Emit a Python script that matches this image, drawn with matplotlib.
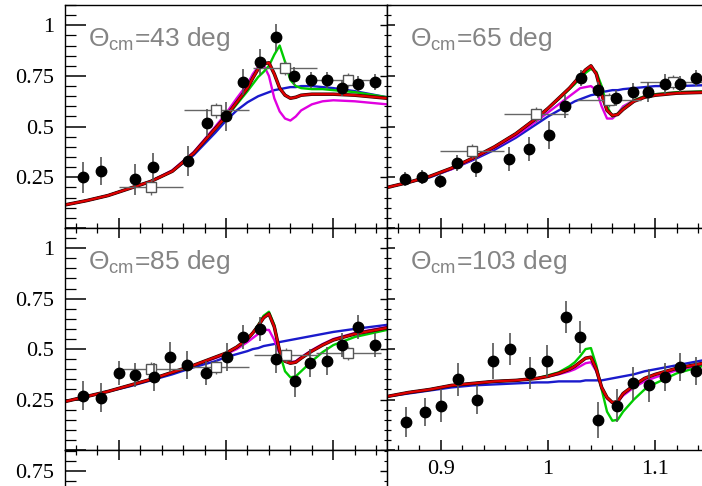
import matplotlib
matplotlib.use('Agg')
import matplotlib.pyplot as plt
import matplotlib.patheffects as pe
from matplotlib.ticker import MultipleLocator, FixedLocator, NullFormatter

plt.rcParams['font.family'] = 'Liberation Serif'

# common energy grid for the model curves
xg = [0.85, 0.87, 0.89, 0.91, 0.93, 0.95, 0.97, 0.99, 1.00, 1.01, 1.02, 1.025, 1.03,
      1.035, 1.04, 1.045, 1.05, 1.055, 1.06, 1.065, 1.07, 1.08, 1.09, 1.10, 1.12, 1.15]

# theta = 43 deg
blue43 = [0.114, 0.135, 0.16, 0.195, 0.23, 0.28, 0.36, 0.47, 0.53, 0.58, 0.62, 0.635, 0.65,
          0.66, 0.67, 0.68, 0.685, 0.69, 0.695, 0.695, 0.70, 0.70, 0.695, 0.69, 0.675, 0.645]
red43 = [0.114, 0.135, 0.16, 0.195, 0.23, 0.28, 0.37, 0.49, 0.55, 0.62, 0.69, 0.74, 0.785,
         0.81, 0.815, 0.76, 0.69, 0.655, 0.64, 0.645, 0.655, 0.66, 0.66, 0.66, 0.655, 0.64]
green43 = [0.114, 0.135, 0.16, 0.195, 0.23, 0.28, 0.37, 0.49, 0.545, 0.61, 0.675, 0.71, 0.745,
           0.77, 0.80, 0.855, 0.90, 0.82, 0.73, 0.70, 0.69, 0.685, 0.685, 0.68, 0.67, 0.645]
mag43 = [0.114, 0.135, 0.16, 0.195, 0.23, 0.285, 0.375, 0.50, 0.565, 0.64, 0.71, 0.76, 0.795,
         0.805, 0.75, 0.64, 0.575, 0.54, 0.53, 0.55, 0.58, 0.61, 0.625, 0.63, 0.625, 0.61]
pt43_x = [0.867, 0.884, 0.915, 0.932, 0.965, 0.982, 1.000, 1.016, 1.032, 1.047, 1.063, 1.079,
          1.094, 1.108, 1.123, 1.139]
pt43_y = [0.25, 0.28, 0.24, 0.30, 0.33, 0.52, 0.55, 0.72, 0.82, 0.94, 0.75, 0.73, 0.73, 0.69,
          0.71, 0.72]
pt43_e = [0.075, 0.07, 0.075, 0.07, 0.075, 0.065, 0.07, 0.065, 0.065, 0.065, 0.045, 0.04,
          0.04, 0.04, 0.04, 0.04]
sq43_x = [0.930, 0.991, 1.055, 1.114]
sq43_y = [0.20, 0.58, 0.79, 0.73]

# theta = 65 deg
blue65 = [0.20, 0.225, 0.25, 0.29, 0.335, 0.385, 0.445, 0.515, 0.55, 0.58, 0.61, 0.625, 0.635,
          0.645, 0.655, 0.66, 0.67, 0.675, 0.68, 0.68, 0.685, 0.69, 0.695, 0.70, 0.70, 0.705]
red65 = [0.20, 0.225, 0.255, 0.295, 0.345, 0.40, 0.465, 0.545, 0.59, 0.64, 0.69, 0.72, 0.75,
         0.78, 0.80, 0.76, 0.66, 0.58, 0.555, 0.56, 0.585, 0.625, 0.645, 0.655, 0.665, 0.67]
green65 = [0.20, 0.225, 0.255, 0.295, 0.345, 0.40, 0.465, 0.545, 0.59, 0.635, 0.685, 0.71, 0.74,
           0.765, 0.785, 0.77, 0.70, 0.60, 0.55, 0.565, 0.59, 0.63, 0.65, 0.66, 0.67, 0.675]
mag65 = [0.20, 0.225, 0.255, 0.29, 0.34, 0.395, 0.455, 0.53, 0.57, 0.61, 0.65, 0.67, 0.69,
         0.695, 0.70, 0.68, 0.60, 0.54, 0.54, 0.565, 0.60, 0.63, 0.65, 0.66, 0.67, 0.675]
pt65_x = [0.867, 0.883, 0.899, 0.915, 0.933, 0.964, 0.982, 1.001, 1.016, 1.031, 1.047, 1.063,
          1.079, 1.093, 1.109, 1.123, 1.138]
pt65_y = [0.24, 0.25, 0.23, 0.32, 0.30, 0.34, 0.39, 0.46, 0.60, 0.74, 0.68, 0.64, 0.67, 0.67,
          0.71, 0.71, 0.74]
pt65_e = [0.035, 0.035, 0.035, 0.04, 0.05, 0.06, 0.06, 0.07, 0.055, 0.04, 0.04, 0.04, 0.045,
          0.05, 0.05, 0.04, 0.04]
sq65_x = [0.929, 0.989, 1.057, 1.116]
sq65_y = [0.38, 0.56, 0.63, 0.72]

# theta = 85 deg
blue85 = [0.24, 0.265, 0.29, 0.315, 0.345, 0.375, 0.41, 0.44, 0.46, 0.475, 0.49, 0.50, 0.505,
          0.515, 0.52, 0.525, 0.535, 0.54, 0.545, 0.55, 0.555, 0.565, 0.575, 0.585, 0.60, 0.62]
red85 = [0.24, 0.265, 0.29, 0.32, 0.35, 0.385, 0.42, 0.46, 0.48, 0.51, 0.55, 0.58, 0.615,
         0.655, 0.675, 0.61, 0.49, 0.44, 0.43, 0.435, 0.455, 0.49, 0.52, 0.545, 0.575, 0.605]
green85 = [0.24, 0.265, 0.29, 0.32, 0.35, 0.385, 0.42, 0.46, 0.48, 0.51, 0.55, 0.58, 0.62,
           0.665, 0.685, 0.62, 0.48, 0.39, 0.36, 0.365, 0.39, 0.44, 0.485, 0.52, 0.56, 0.595]
mag85 = [0.24, 0.265, 0.29, 0.32, 0.35, 0.385, 0.42, 0.455, 0.475, 0.50, 0.535, 0.555, 0.575,
         0.595, 0.595, 0.545, 0.475, 0.445, 0.435, 0.44, 0.46, 0.495, 0.525, 0.55, 0.58, 0.61]
pt85_x = [0.867, 0.884, 0.900, 0.915, 0.933, 0.948, 0.964, 0.981, 1.001, 1.016, 1.032, 1.047,
          1.064, 1.078, 1.094, 1.108, 1.123, 1.139]
pt85_y = [0.27, 0.26, 0.38, 0.37, 0.36, 0.46, 0.42, 0.38, 0.46, 0.56, 0.60, 0.45, 0.34, 0.43,
          0.44, 0.52, 0.61, 0.52]
pt85_e = [0.07, 0.07, 0.06, 0.06, 0.07, 0.075, 0.07, 0.06, 0.07, 0.06, 0.06, 0.07, 0.075, 0.07,
          0.07, 0.06, 0.06, 0.06]
sq85_x = [0.930, 0.991, 1.056, 1.114]
sq85_y = [0.40, 0.41, 0.47, 0.48]

# theta = 103 deg
blue103 = [0.265, 0.28, 0.295, 0.31, 0.32, 0.325, 0.33, 0.335, 0.335, 0.34, 0.34, 0.34, 0.34,
           0.345, 0.345, 0.345, 0.345, 0.35, 0.355, 0.36, 0.365, 0.375, 0.39, 0.40, 0.42, 0.45]
red103 = [0.265, 0.285, 0.30, 0.32, 0.33, 0.34, 0.345, 0.355, 0.365, 0.38, 0.40, 0.415, 0.435,
          0.455, 0.46, 0.40, 0.31, 0.26, 0.235, 0.24, 0.28, 0.32, 0.355, 0.375, 0.405, 0.435]
green103 = [0.265, 0.285, 0.30, 0.32, 0.33, 0.34, 0.345, 0.355, 0.37, 0.385, 0.415, 0.435, 0.465,
            0.50, 0.505, 0.42, 0.30, 0.19, 0.145, 0.15, 0.19, 0.25, 0.30, 0.33, 0.38, 0.425]
mag103 = [0.265, 0.285, 0.30, 0.32, 0.33, 0.34, 0.345, 0.355, 0.365, 0.375, 0.39, 0.40, 0.415,
          0.43, 0.435, 0.39, 0.31, 0.255, 0.235, 0.24, 0.27, 0.31, 0.34, 0.36, 0.395, 0.43]
pt103_x = [0.868, 0.885, 0.900, 0.916, 0.934, 0.949, 0.965, 0.983, 0.999, 1.017, 1.030, 1.047,
           1.064, 1.079, 1.094, 1.109, 1.123, 1.138]
pt103_y = [0.14, 0.19, 0.22, 0.35, 0.25, 0.44, 0.50, 0.38, 0.44, 0.66, 0.56, 0.15, 0.22, 0.33,
           0.32, 0.36, 0.41, 0.39]
pt103_e = [0.075, 0.07, 0.08, 0.08, 0.07, 0.09, 0.08, 0.08, 0.08, 0.08, 0.08, 0.09, 0.08, 0.08,
           0.08, 0.07, 0.07, 0.07]

sq_xerr = [0.03, 0.03, 0.03, 0.03]
sq_yerr = [0.035, 0.035, 0.035, 0.035]

y_ticks = [0.0, 0.25, 0.5, 0.75, 1.0]
y_labels = ['', '0.25', '0.5', '0.75', '1']
y_labels_low = ['', '', '', '0.75', '']
x_ticks = [0.9, 1.0, 1.1]
x_labels = ['0.9', '1', '1.1']

W, H = 702, 486
fig = plt.figure(figsize=(W / 100, H / 100), dpi=100)


def box(left, top, w, h):
    return [left / W, 1 - (top + h) / H, w / W, h / H]


def setup(ax, left_col, top_ticks, ylim=(0, 1.1), labels=y_labels):
    ax.set_xlim(0.85, 1.15)
    ax.set_ylim(*ylim)
    for s in ax.spines.values():
        s.set_linewidth(1.0)
    ax.xaxis.set_major_locator(FixedLocator(x_ticks))
    ax.xaxis.set_minor_locator(MultipleLocator(0.02))
    ax.yaxis.set_major_locator(FixedLocator(y_ticks))
    ax.yaxis.set_minor_locator(MultipleLocator(0.05))
    ax.xaxis.set_major_formatter(NullFormatter())
    ax.tick_params(axis='x', which='major', direction='in', length=7, width=1.1,
                   bottom=True, top=top_ticks, labelbottom=False)
    ax.tick_params(axis='x', which='minor', direction='in', length=3.6, width=0.9,
                   bottom=True, top=top_ticks)
    if left_col:
        ax.set_yticklabels(labels)
        ax.tick_params(axis='y', which='major', direction='in', length=15, width=1.1,
                       left=True, right=False, labelsize=16, pad=8)
        ax.tick_params(axis='y', which='minor', direction='in', length=8, width=0.9,
                       left=True, right=False)
        sec = ax.secondary_yaxis('right')
        sec.yaxis.set_major_locator(FixedLocator(y_ticks))
        sec.yaxis.set_minor_locator(MultipleLocator(0.05))
        sec.tick_params(which='major', direction='in', length=5, width=1.0, labelright=False)
        sec.tick_params(which='minor', direction='in', length=2.5, width=0.8)
    else:
        ax.yaxis.set_major_formatter(NullFormatter())
        ax.tick_params(axis='y', which='major', direction='in', length=6, width=1.1,
                       left=True, right=False, labelleft=False)
        ax.tick_params(axis='y', which='minor', direction='in', length=3, width=0.9,
                       left=True, right=False)


def draw(ax, angle, curves, px, py, pe_err, sx=None, sy=None):
    blue, red, green, mag = curves
    ax.plot(xg, blue, color='#1a1acc', lw=1.7, zorder=2)
    ax.plot(xg, mag, color='#e000e0', lw=1.7, zorder=2)
    ax.plot(xg, green, color='#00cc00', lw=1.7, zorder=2)
    ax.plot(xg, red, color='#e00000', lw=1.6, zorder=2.5,
            path_effects=[pe.Stroke(linewidth=2.5, foreground='#300000'), pe.Normal()])
    if sx is not None:
        ax.errorbar(sx, sy, xerr=sq_xerr, yerr=sq_yerr, fmt='s', ms=7, mfc='white',
                    mec='#555555', mew=1.0, ecolor='#666666', elinewidth=1.0, capsize=0,
                    zorder=3)
    ax.errorbar(px, py, yerr=pe_err, fmt='o', ms=7.5, color='black', ecolor='#555555',
                elinewidth=1.2, capsize=0, zorder=4)
    ax.text(0.07, 0.815, r'$\mathregular{Θ_{cm}}$=%d deg' % angle, transform=ax.transAxes,
            fontsize=19, color='#848484', family='Liberation Sans', va='baseline')


ax43 = fig.add_axes(box(65, 5, 322, 223))
ax65 = fig.add_axes(box(387, 5, 322, 223))
ax85 = fig.add_axes(box(65, 228, 322, 222))
ax103 = fig.add_axes(box(387, 228, 322, 222))
ax_low = fig.add_axes(box(65, 450, 322, 222))

setup(ax43, True, False)
setup(ax65, False, False)
setup(ax85, True, True)
setup(ax103, False, True)
# lower panel only shows its top strip
setup(ax_low, True, True, ylim=(-0.245, 0.855), labels=y_labels_low)

draw(ax43, 43, (blue43, red43, green43, mag43), pt43_x, pt43_y, pt43_e, sq43_x, sq43_y)
draw(ax65, 65, (blue65, red65, green65, mag65), pt65_x, pt65_y, pt65_e, sq65_x, sq65_y)
draw(ax85, 85, (blue85, red85, green85, mag85), pt85_x, pt85_y, pt85_e, sq85_x, sq85_y)
draw(ax103, 103, (blue103, red103, green103, mag103), pt103_x, pt103_y, pt103_e)

ax103.set_xticklabels(x_labels)
ax103.tick_params(axis='x', which='major', labelbottom=True, labelsize=16, pad=7)

fig.savefig('out.png', dpi=100)
